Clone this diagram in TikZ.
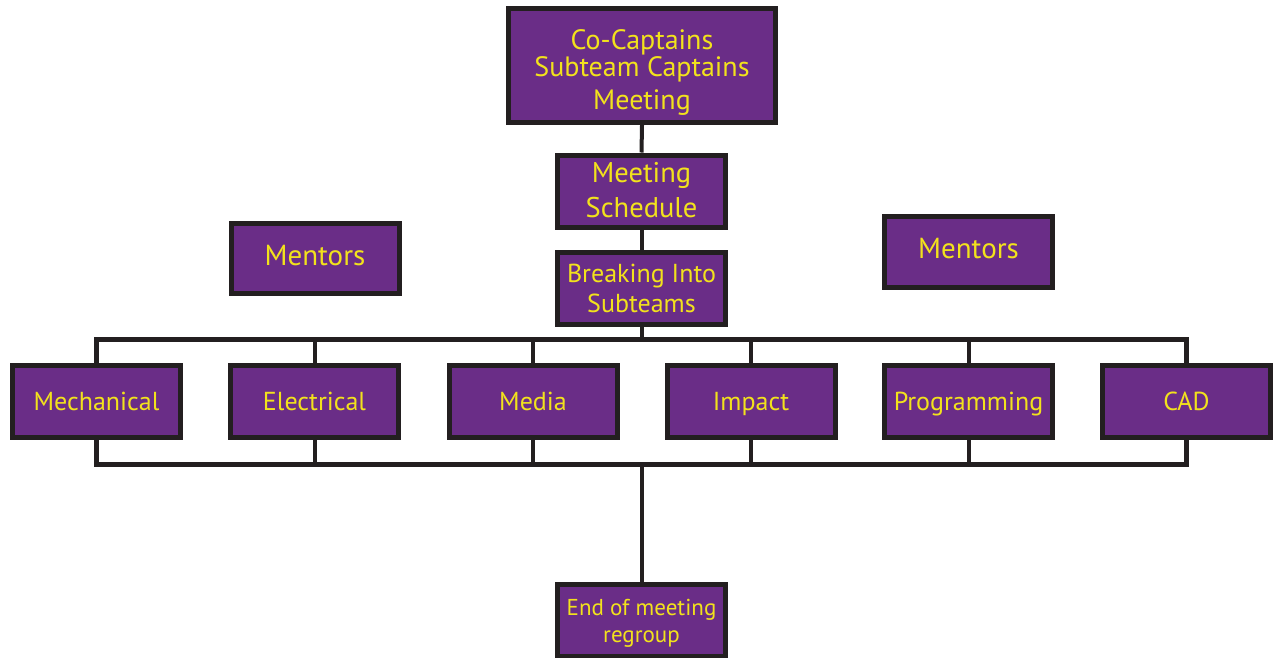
\documentclass[tikz,border=0pt]{standalone}
\usepackage{fontspec}
\setmainfont{PT Sans}
\definecolor{boxpurple}{HTML}{6A2D87}
\definecolor{boxline}{HTML}{231F20}
\definecolor{boxtext}{HTML}{F2E21C}
\begin{document}
\begin{tikzpicture}[x=1pt,y=-1pt,
  box/.style={draw=boxline, fill=boxpurple, line width=5pt, text=boxtext,
    align=center, inner sep=0pt, minimum width=168pt, minimum height=72pt,
    font=\fontsize{26}{30}\selectfont},
  one/.style={text height=18pt, text depth=0pt},
  wire/.style={draw=boxline, line width=4pt},
  bus/.style={draw=boxline, line width=5pt, line join=miter}]
\useasboundingbox (0,0) rectangle (1273,657);
\node[box, minimum width=267pt, minimum height=114pt] (top) at (642,65.5) {};
\node[text=boxtext, align=center, inner sep=0pt, font=\fontsize{28}{24}\selectfont, yshift=-7pt] (toptext) at (top.center) {Co-Captains\\Subteam Captains\\[7pt]Meeting};
\node[box, font=\fontsize{28.5}{35}\selectfont] (sched) at (641.5,191) {\raisebox{3pt}{Meeting}\\\raisebox{3pt}{Schedule}};
\node[box, font=\fontsize{26}{30}\selectfont] (brk) at (641.5,288.5) {Breaking Into\\Subteams};
\node[box, text height=20pt, text depth=0pt, minimum height=70pt, font=\fontsize{29}{30}\selectfont] (ml) at (315,258.5) {\raisebox{3pt}{Mentors}};
\node[box, text height=20pt, text depth=0pt, minimum height=71pt, font=\fontsize{29}{30}\selectfont] (mr) at (968.5,252) {\raisebox{4pt}{Mentors}};
\node[box, one] (mech) at (96.5,401.5) {Mechanical};
\node[box, one] (elec) at (314.5,401.5) {Electrical};
\node[box, one] (media) at (533,401.5) {Media};
\node[box, one] (impact) at (751,401.5) {Impact};
\node[box, one] (prog) at (968.5,401.5) {Programming};
\node[box, one] (cad) at (1186.5,401.5) {CAD};
\node[box] (endm) at (641.5,620.5) {};
\node[text=boxtext, align=center, inner sep=0pt, font=\fontsize{23}{27}\selectfont, yshift=-3pt] (endtext) at (endm.center) {End of meeting\\regroup};
\coordinate (bt) at (641.5,339);
\coordinate (bb) at (641.5,464);
\draw[wire] (top.south) -- (sched.north);
\draw[wire] (sched.south) -- (brk.north);
\draw[wire] (brk.south) -- (bt);
\draw[bus] (mech.north) |- (cad.north |- bt) -- (cad.north);
\draw[bus] (mech.south) |- (cad.south |- bb) -- (cad.south);
\foreach \n in {elec,media,impact,prog}{
  \draw[wire] (\n.north) -- (\n.north |- bt);
  \draw[wire] (\n.south) -- (\n.south |- bb);
}
\draw[wire] (bb) -- (endm.north);
\end{tikzpicture}
\end{document}
